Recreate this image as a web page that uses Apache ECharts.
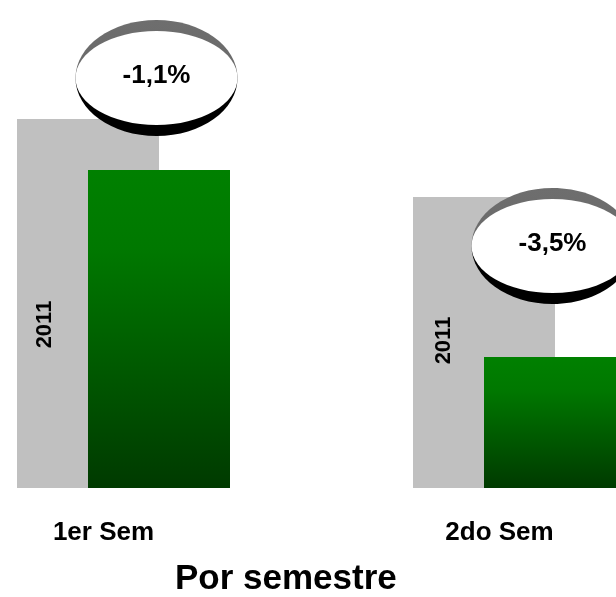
<!DOCTYPE html>
<html>
<head>
<meta charset="utf-8">
<script src="https://cdn.jsdelivr.net/npm/echarts@6/dist/echarts.min.js"></script>
<style>
  html, body { margin: 0; padding: 0; background: #fff; }
  #chart { width: 616px; height: 597px; }
</style>
</head>
<body>
<div id="chart"></div>
<script>
// Semester totals, previous year vs. current year
const categories = ['1er Sem', '2do Sem'];
const values2011 = [4637, 4559];
const values2012 = [4586, 4399];
const changeLabels = ['-1,1%', '-3,5%'];
const chartTitle = 'Por semestre';

const FONT = '"Liberation Sans", Arial, sans-serif';

// Badge placement relative to the current-year bar top (pixels)
const badgeLift = [92, 111];
const badgeShiftX = 33;
// 2011 label nudges inside the grey bars
const yearLabelOffsets = [[-21, -43], [2, -40]];

const chart = echarts.init(document.getElementById('chart'), null, { renderer: 'canvas' });

const greenFill = new echarts.graphic.LinearGradient(0, 0, 0, 1, [
  { offset: 0, color: '#008000' },
  { offset: 0.25, color: '#007800' },
  { offset: 1, color: '#003a00' }
]);

const rimFill = new echarts.graphic.LinearGradient(0, 0, 0, 1, [
  { offset: 0, color: '#6e6e6e' },
  { offset: 0.42, color: '#6a6a6a' },
  { offset: 0.58, color: '#000000' },
  { offset: 1, color: '#000000' }
]);

chart.setOption({
  backgroundColor: '#ffffff',
  animation: false,
  title: {
    text: chartTitle,
    left: 175,
    top: 562,
    padding: 0,
    textStyle: { fontFamily: FONT, fontWeight: 'bold', fontSize: 35, color: '#000' }
  },
  grid: { left: -74.5, width: 792, top: 0, bottom: 109, outerBoundsMode: 'none', containLabel: false },
  xAxis: {
    type: 'category',
    data: categories,
    axisLine: { show: false },
    axisTick: { show: false },
    axisLabel: {
      margin: 32,
      padding: [0, 40, 0, 0],
      fontFamily: FONT,
      fontWeight: 'bold',
      fontSize: 26,
      lineHeight: 26,
      color: '#000'
    }
  },
  yAxis: {
    type: 'value',
    min: 4268,
    max: 4756,
    show: false,
    splitLine: { show: false }
  },
  series: [
    {
      name: '2011',
      type: 'bar',
      barWidth: 142,
      barGap: '-50%',
      itemStyle: { color: '#c0c0c0' },
      data: values2011.map((v, i) => ({
        value: v,
        label: { offset: yearLabelOffsets[i] }
      })),
      label: {
        show: true,
        position: 'inside',
        rotate: 90,
        formatter: '{a}',
        fontFamily: FONT,
        fontWeight: 'bold',
        fontSize: 22,
        color: '#000'
      },
      z: 1
    },
    {
      name: '2012',
      type: 'bar',
      barWidth: 142,
      barGap: '-50%',
      itemStyle: { color: greenFill },
      data: values2012,
      z: 2
    },
    {
      name: 'variación',
      type: 'custom',
      z: 5,
      data: values2012.map((v, i) => [i, v]),
      renderItem: function (params, api) {
        const i = api.value(0);
        const p = api.coord([i, api.value(1)]);
        const cx = p[0] + badgeShiftX;
        const cy = p[1] - badgeLift[i];
        return {
          type: 'group',
          children: [
            { type: 'ellipse', shape: { cx: cx, cy: cy, rx: 81, ry: 58 }, style: { fill: rimFill } },
            { type: 'ellipse', shape: { cx: cx, cy: cy, rx: 81, ry: 47 }, style: { fill: '#ffffff' } },
            {
              type: 'text',
              style: {
                text: changeLabels[i],
                x: cx,
                y: cy - 2,
                align: 'center',
                verticalAlign: 'middle',
                font: 'bold 26px ' + FONT,
                fill: '#000'
              }
            }
          ]
        };
      }
    }
  ]
});
</script>
</body>
</html>
